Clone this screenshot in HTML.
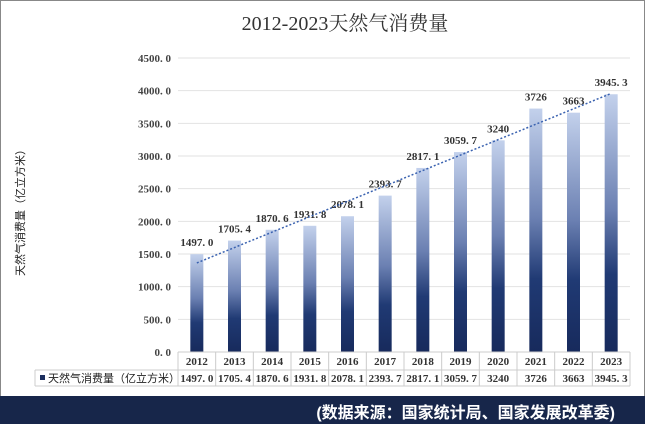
<!DOCTYPE html>
<html><head><meta charset="utf-8"><style>
body{margin:0;width:645px;height:424px;overflow:hidden;background:#fff;font-family:"Liberation Serif","Noto Serif CJK SC",serif}
#wrap{position:absolute;left:0;top:0;width:643px;height:396px;border:1px solid #888;border-bottom:none;background:#fff}
#band{position:absolute;left:0;top:396px;width:645px;height:28px;background:#17264a}
#src{position:absolute;right:30px;top:399px;color:#fff;font:bold 16px "Liberation Sans","Noto Sans CJK SC",sans-serif}
</style></head><body>
<div id="wrap"></div>
<svg id="chart" width="645" height="424" style="position:absolute;left:0;top:0">
<defs><linearGradient id="g" x1="0" y1="0" x2="0" y2="1"><stop offset="0" stop-color="#c3d1ec"/><stop offset="0.45" stop-color="#6b80b2"/><stop offset="0.7" stop-color="#203a74"/><stop offset="1" stop-color="#172a5c"/></linearGradient></defs>
<text x="345" y="30" text-anchor="middle" font-size="20" fill="#333">2012-2023天然气消费量</text>
<text transform="translate(24,210) rotate(-90)" text-anchor="middle" font-size="11" fill="#222" font-family="Liberation Sans,Noto Sans CJK SC,sans-serif">天然气消费量（亿立方米）</text>
<g id="grid"></g><g id="bars"></g><g id="tbl"></g>
</svg>
<div id="band"></div>
<div id="src">(数据来源：国家统计局、国家发展改革委)</div>
<script>
const categories=["2012","2013","2014","2015","2016","2017","2018","2019","2020","2021","2022","2023"];
const values=[1497.0,1705.4,1870.6,1931.8,2078.1,2393.7,2817.1,3059.7,3240,3726,3663,3945.3];
const labels=["1497.0","1705.4","1870.6","1931.8","2078.1","2393.7","2817.1","3059.7","3240","3726","3663","3945.3"];
const ticks=[0,500,1000,1500,2000,2500,3000,3500,4000,4500];
const NS="http://www.w3.org/2000/svg";
const x0=178,x1=630,y0=352,ymax=4500,ytop=58;
const bw=(x1-x0)/categories.length;
const y=v=>y0-(v/ymax)*(y0-ytop);
const xc=i=>x0+bw*(i+0.5);
function mk(t,a,p){const e=document.createElementNS(NS,t);for(const k in a)e.setAttribute(k,a[k]);document.getElementById(p).appendChild(e);return e;}
ticks.forEach(t=>{
 const l=mk('line',{x1:x0,x2:x1,y1:y(t),y2:y(t),stroke:'#e2e2e2'},'grid');
 
 
 const tx=mk('text',{x:171,y:y(t)+4,'text-anchor':'end','font-size':11,'font-weight':'bold',fill:'#444'},'grid');
 tx.textContent=t.toFixed(1).replace('.','. ');
 
 
});
values.forEach((v,i)=>{
 const r=mk('rect',{x:xc(i)-6.5,y:y(v),width:13,height:y0-y(v),fill:'url(#g)'},'bars');
 
 
 const t=mk('text',{x:xc(i),y:y(v)-8,'text-anchor':'middle','font-size':11,'font-weight':'bold',fill:'#333'},'bars');
 t.textContent=labels[i].replace('.','. ');
 
 
});
const n=values.length;let sx=0,sy=0,sxy=0,sxx=0;
values.forEach((v,i)=>{sx+=i;sy+=v;sxy+=i*v;sxx+=i*i;});
const b=(n*sxy-sx*sy)/(n*sxx-sx*sx),a=(sy-b*sx)/n;
const tl=mk('line',{x1:xc(0),y1:y(a),x2:xc(n-1),y2:y(a+b*(n-1)),stroke:'#3a62b0','stroke-width':1.5,'stroke-dasharray':'2,2'},'bars');


const r1=352,r2=370,r3=386,tl0=35;
[[x0,r1,x1,r1],[tl0,r2,x1,r2],[tl0,r3,x1,r3],[tl0,r2,tl0,r3]].forEach(c=>{const l=mk('line',{x1:c[0],y1:c[1],x2:c[2],y2:c[3],stroke:'#ccc'},'tbl');});
for(let i=0;i<=n;i++){const l=mk('line',{x1:x0+bw*i,x2:x0+bw*i,y1:r1,y2:r3,stroke:'#ccc'},'tbl');}
categories.forEach((c,i)=>{
 const t=mk('text',{x:xc(i),y:365,'text-anchor':'middle','font-size':11,'font-weight':'bold',fill:'#333'},'tbl');t.textContent=c;
 
 
 const d=mk('text',{x:xc(i),y:382,'text-anchor':'middle','font-size':11,'font-weight':'bold',fill:'#333'},'tbl');d.textContent=labels[i].replace('.','. ');
 
 
});
const lk=mk('rect',{x:40,y:375,width:5,height:5,fill:'#1c2e5e'},'tbl');


const lt=mk('text',{x:48,y:382,'font-size':11,fill:'#222','font-family':'Liberation Sans,Noto Sans CJK SC,sans-serif'},'tbl');lt.textContent='天然气消费量（亿立方米）';


</script>
</body></html>
